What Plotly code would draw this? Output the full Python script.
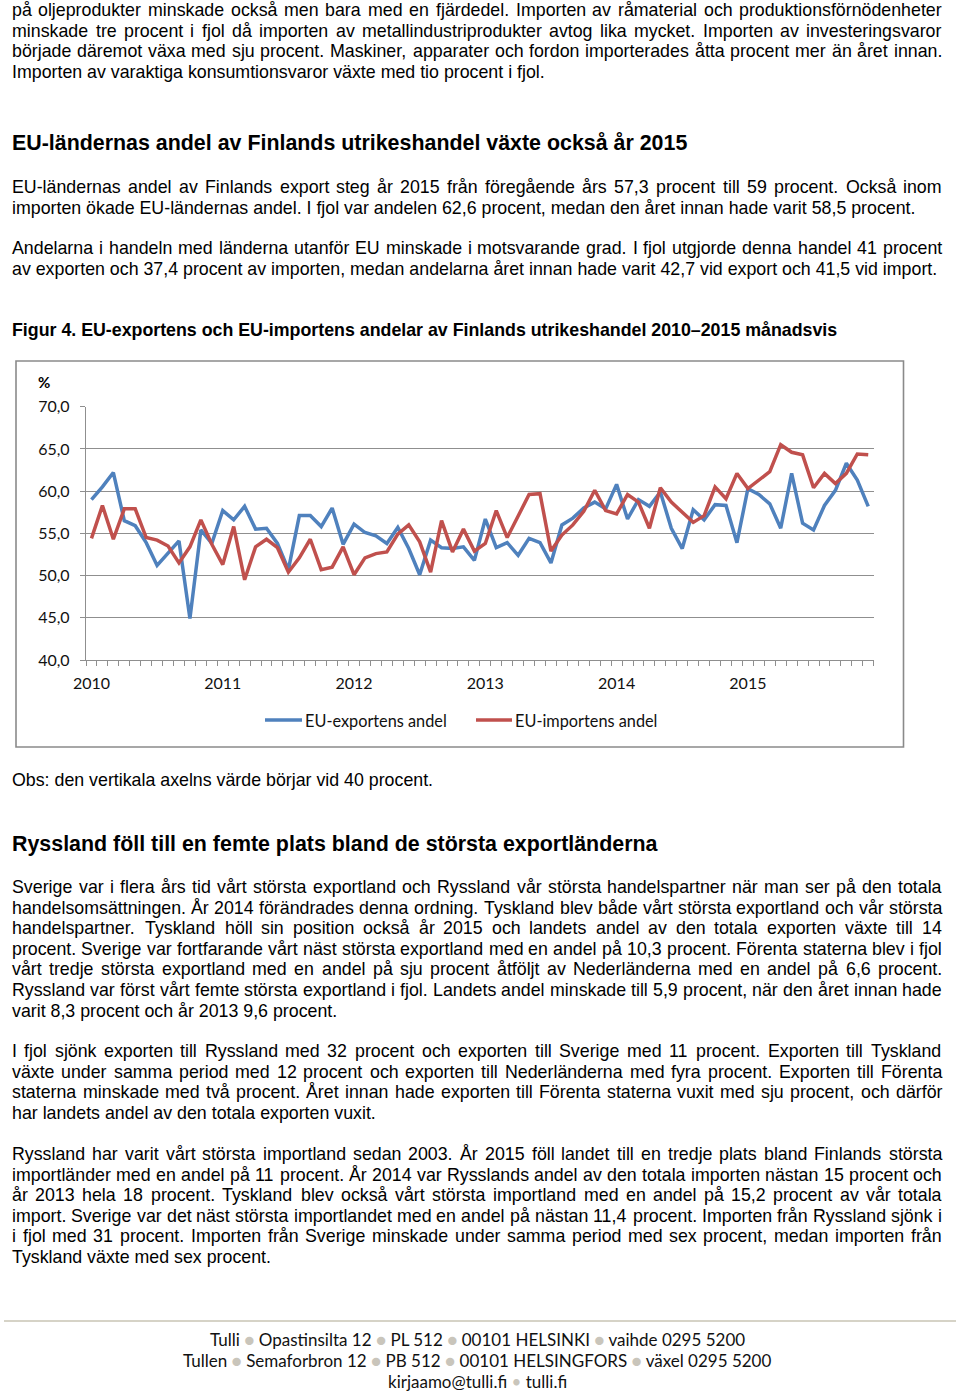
import plotly.graph_objects as go

# ---------------- data ----------------
years = ["2010", "2011", "2012", "2013", "2014", "2015"]
months = [f"{y}-{m:02d}" for y in years for m in range(1, 13)]

eu_export_share = [
    59.0, 60.5, 62.2, 56.5, 55.9, 53.9, 51.2, 52.7, 54.1, 44.9, 55.4, 53.8,
    57.7, 56.6, 58.2, 55.5, 55.6, 53.8, 50.7, 57.1, 57.1, 55.8, 58.0, 53.7,
    56.1, 55.1, 54.7, 53.8, 55.7, 53.2, 50.1, 54.2, 53.3, 53.2, 53.4, 51.8,
    56.7, 53.3, 53.9, 52.4, 54.4, 53.9, 51.5, 56.0, 56.8, 58.0, 58.7, 57.9,
    60.8, 56.7, 59.0, 58.2, 59.9, 55.6, 53.2, 57.8, 56.6, 58.4, 58.3, 53.9,
    60.3, 59.6, 58.5, 55.6, 62.1, 56.2, 55.4, 58.3, 60.1, 63.3, 61.3, 58.2,
]
eu_import_share = [
    54.4, 58.3, 54.3, 57.9, 57.9, 54.5, 54.2, 53.5, 51.5, 53.4, 56.6, 53.7,
    51.3, 55.8, 49.5, 53.4, 54.3, 53.3, 50.4, 52.1, 54.3, 50.7, 51.0, 53.4,
    50.1, 52.1, 52.6, 52.8, 54.9, 56.0, 54.0, 50.4, 56.5, 52.8, 55.5, 52.9,
    53.8, 57.7, 54.5, 57.1, 59.6, 59.7, 52.9, 54.8, 56.0, 57.6, 60.1, 57.7,
    57.3, 59.6, 58.7, 55.6, 60.4, 58.7, 57.5, 56.3, 57.1, 60.5, 59.1, 62.1,
    60.3, 61.3, 62.3, 65.5, 64.6, 64.3, 60.4, 62.1, 60.9, 62.1, 64.4, 64.3,
]
y_ticks = [40, 45, 50, 55, 60, 65, 70]
y_tick_labels = ["40,0", "45,0", "50,0", "55,0", "60,0", "65,0", "70,0"]
series_names = ["EU-exportens andel", "EU-importens andel"]
series_colors = ["#4F81BD", "#C0504D"]

# ---------------- page text ----------------
para_top = [
    "på oljeprodukter minskade också men bara med en fjärdedel. Importen av råmaterial och produktionsförnödenheter",
    "minskade tre procent i fjol då importen av metallindustriprodukter avtog lika mycket. Importen av investeringsvaror",
    "började däremot växa med sju procent. Maskiner, apparater och fordon importerades åtta procent mer än året innan.",
    "Importen av varaktiga konsumtionsvaror växte med tio procent i fjol.",
]
heading1 = "EU-ländernas andel av Finlands utrikeshandel växte också år 2015"
para_eu1 = [
    "EU-ländernas andel av Finlands export steg år 2015 från föregående års 57,3 procent till 59 procent. Också inom",
    "importen ökade EU-ländernas andel. I fjol var andelen 62,6 procent, medan den året innan hade varit 58,5 procent.",
]
para_eu2 = [
    "Andelarna i handeln med länderna utanför EU minskade i motsvarande grad. I fjol utgjorde denna handel 41 procent",
    "av exporten och 37,4 procent av importen, medan andelarna året innan hade varit 42,7 vid export och 41,5 vid import.",
]
fig_title = "Figur 4. EU-exportens och EU-importens andelar av Finlands utrikeshandel 2010–2015 månadsvis"
obs_note = "Obs: den vertikala axelns värde börjar vid 40 procent."
heading2 = "Ryssland föll till en femte plats bland de största exportländerna"
para_ru1 = [
    "Sverige var i flera års tid vårt största exportland och Ryssland vår största handelspartner när man ser på den totala",
    "handelsomsättningen. År 2014 förändrades denna ordning. Tyskland blev både vårt största exportland och vår största",
    "handelspartner. Tyskland höll sin position också år 2015 och landets andel av den totala exporten växte till 14",
    "procent. Sverige var fortfarande vårt näst största exportland med en andel på 10,3 procent. Förenta staterna blev i fjol",
    "vårt tredje största exportland med en andel på sju procent åtföljt av Nederländerna med en andel på 6,6 procent.",
    "Ryssland var först vårt femte största exportland i fjol. Landets andel minskade till 5,9 procent, när den året innan hade",
    "varit 8,3 procent och år 2013 9,6 procent.",
]
para_ru2 = [
    "I fjol sjönk exporten till Ryssland med 32 procent och exporten till Sverige med 11 procent. Exporten till Tyskland",
    "växte under samma period med 12 procent och exporten till Nederländerna med fyra procent. Exporten till Förenta",
    "staterna minskade med två procent. Året innan hade exporten till Förenta staterna vuxit med sju procent, och därför",
    "har landets andel av den totala exporten vuxit.",
]
para_ru3 = [
    "Ryssland har varit vårt största importland sedan 2003. År 2015 föll landet till en tredje plats bland Finlands största",
    "importländer med en andel på 11 procent. År 2014 var Rysslands andel av den totala importen nästan 15 procent och",
    "år 2013 hela 18 procent. Tyskland blev också vårt största importland med en andel på 15,2 procent av vår totala",
    "import. Sverige var det näst största importlandet med en andel på nästan 11,4 procent. Importen från Ryssland sjönk i",
    "i fjol med 31 procent. Importen från Sverige minskade under samma period med sex procent, medan importen från",
    "Tyskland växte med sex procent.",
]
footer_lines = [
    ["Tulli", "Opastinsilta 12", "PL 512", "00101 HELSINKI", "vaihde 0295 5200"],
    ["Tullen", "Semaforbron 12", "PB 512", "00101 HELSINGFORS", "växel 0295 5200"],
]
footer_last = ["kirjaamo@tulli.fi", "tulli.fi"]

# ---------------- page geometry (pixels) ----------------
W, H = 960, 1392
BODY_FONT = "Liberation Sans, Arial, sans-serif"
CHART_FONT = "Lato, Open Sans, sans-serif"
BODY_SIZE = 17.8
HEAD_SIZE = 21.4
LEFT, RIGHT = 12, 942
LINE_H = 20.6

# Arial (= Liberation Sans) advance widths /1000
_w = dict(zip("abcdefghijklmnopqrstuvwxyz",
              [556, 556, 500, 556, 556, 278, 556, 556, 222, 222, 500, 222, 833,
               556, 556, 556, 556, 333, 500, 278, 556, 500, 722, 500, 500, 500]))
_w.update(dict(zip("ABCDEFGHIJKLMNOPQRSTUVWXYZ",
                   [667, 667, 722, 722, 667, 611, 778, 722, 278, 500, 667, 556, 833,
                    722, 778, 667, 778, 722, 667, 611, 722, 667, 944, 667, 667, 611])))
_w.update({c: 556 for c in "0123456789"})
_w.update({" ": 278, ".": 278, ",": 278, "-": 333, ":": 278, "–": 556})
for a, b in zip("åäöÅÄÖé", "aaoAAOe"):
    _w[a] = _w[b]


def tw(s, size):
    return sum(_w.get(c, 556) for c in s) * size / 1000.0


def px(x):
    return x / W


def py(y):
    return 1 - y / H


annotations = []


def add_text(text, x, y, size=BODY_SIZE, bold=False, family=BODY_FONT, color="#000000",
             xanchor="left"):
    t = f"<b>{text}</b>" if bold else text
    annotations.append(dict(text=t, x=px(x), y=py(y), xref="paper", yref="paper",
                            xanchor=xanchor, yanchor="middle", showarrow=False,
                            borderpad=0, borderwidth=0,
                            font=dict(family=family, size=size, color=color)))


def add_paragraph(lines, y0):
    for k, line in enumerate(lines):
        y = y0 + k * LINE_H
        if k == len(lines) - 1:
            add_text(line, LEFT, y)
            continue
        words = line.split(" ")
        widths = [tw(wd, BODY_SIZE) for wd in words]
        gap = max(2.0, (RIGHT - LEFT - sum(widths)) / (len(words) - 1))
        x = LEFT
        for wd, wdw in zip(words, widths):
            add_text(wd, x, y)
            x += wdw + gap


add_paragraph(para_top, 10)
add_text(heading1, LEFT, 143, size=HEAD_SIZE, bold=True)
add_paragraph(para_eu1, 187)
add_paragraph(para_eu2, 248)
add_text(fig_title, LEFT, 330, size=BODY_SIZE, bold=True)
add_text(obs_note, LEFT, 780)
add_text(heading2, LEFT, 844, size=HEAD_SIZE, bold=True)
add_paragraph(para_ru1, 887)
add_paragraph(para_ru2, 1051)
add_paragraph(para_ru3, 1154)

bullet = ' <span style="color:#c9c5bb">●</span> '
small_bullet = ' <span style="color:#c9c5bb">•</span> '
FOOT_FONT = "Lato, Open Sans, sans-serif"
for k, parts in enumerate(footer_lines):
    add_text(bullet.join(parts), 477, 1339 + k * 21, size=17, family=FOOT_FONT,
             color="#111111", xanchor="center")
add_text(small_bullet.join(footer_last), 477, 1381, size=17, family=FOOT_FONT,
         color="#111111", xanchor="center")

# chart labels
add_text("%", 38, 382, size=15, family=CHART_FONT, bold=True)

# legend (drawn as line samples + labels)
legend_line_x = [(265, 302), (476, 512)]
legend_text_x = [305, 515]
LEG_Y = 720
shapes = []
for (x0, x1), tx, name, col in zip(legend_line_x, legend_text_x, series_names, series_colors):
    shapes.append(dict(type="line", xref="paper", yref="paper", x0=px(x0), x1=px(x1),
                       y0=py(LEG_Y), y1=py(LEG_Y), line=dict(color=col, width=3.5)))
    add_text(name, tx, LEG_Y, size=16.3, family=CHART_FONT, color="#111111")

# ---------------- chart ----------------
GRID = "#8f8f8f"
x_idx = list(range(len(months)))

fig = go.Figure()
for vals, name, col in zip([eu_export_share, eu_import_share], series_names, series_colors):
    fig.add_trace(go.Scatter(x=x_idx, y=vals, mode="lines", name=name,
                             line=dict(color=col, width=3.5), hoverinfo="skip"))

x_left, x_right = 86, 873.7
y_top, y_bottom = 406.7, 660

shapes += [
    dict(type="rect", xref="paper", yref="paper", x0=px(16), x1=px(903.5),
         y0=py(747), y1=py(361), line=dict(color="#8a8a8a", width=1.6),
         fillcolor="rgba(0,0,0,0)", layer="below"),
    dict(type="line", xref="paper", yref="paper", x0=px(4), x1=px(956),
         y0=py(1321), y1=py(1321), line=dict(color="#c9c5b5", width=1.5)),
]

fig.update_layout(
    template="none",
    width=W, height=H,
    margin=dict(l=0, r=0, t=0, b=0),
    paper_bgcolor="white", plot_bgcolor="white",
    showlegend=False,
    xaxis=dict(domain=[px(x_left), px(x_right)], range=[-0.5, len(months) - 0.5],
               tickmode="array", tickvals=[12 * i for i in range(len(years))], ticktext=years,
               ticks="outside", ticklen=9, tickcolor="rgba(0,0,0,0)",
               tickfont=dict(family=CHART_FONT, size=16, color="#111111"),
               showgrid=False, zeroline=False, showline=True, linecolor=GRID, linewidth=1.3,
               minor=dict(tickmode="array", tickvals=[i - 0.5 for i in range(len(months) + 1)],
                          ticks="outside", ticklen=5, tickcolor=GRID, tickwidth=1,
                          showgrid=False),
               fixedrange=True),
    yaxis=dict(domain=[py(y_bottom), py(y_top)], range=[40, 70],
               tickmode="array", tickvals=y_ticks, ticktext=y_tick_labels,
               ticks="outside", ticklen=5, tickcolor=GRID, tickwidth=1.3,
               ticklabelstandoff=7,
               tickfont=dict(family=CHART_FONT, size=16, color="#111111"),
               showgrid=True, gridcolor=GRID, gridwidth=1.3, zeroline=False,
               showline=True, linecolor=GRID, linewidth=1.3, fixedrange=True),
    annotations=annotations,
    shapes=shapes,
)

fig.write_html("out.html",
               config={"displayModeBar": False},
               post_script="document.body.style.margin='0';document.body.style.overflow='hidden';")
